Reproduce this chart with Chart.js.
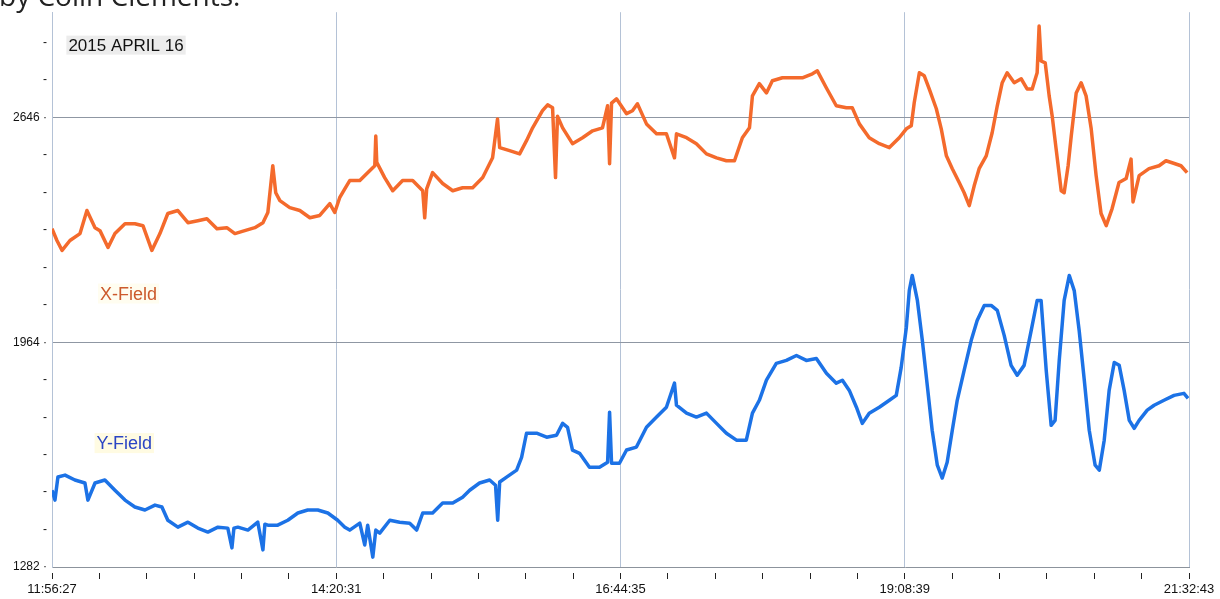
<!DOCTYPE html>
<html>
<head>
<meta charset="utf-8">
<script src="https://cdn.jsdelivr.net/npm/chart.js@4.4.1/dist/chart.umd.min.js"></script>
<style>
  body { margin: 0; background: #fff; overflow: hidden; }
  #wrap { position: relative; width: 1220px; height: 599px; }
  #byline { position: absolute; left: -1px; top: -19px; font-family: "Open Sans", sans-serif; font-size: 28px; line-height: 28px; color: #222; white-space: nowrap; }
  canvas { position: absolute; left: 0; top: 0; }
</style>
</head>
<body>
<div id="wrap">
  <canvas id="magChart" width="1220" height="599"></canvas>
  <div id="byline">by Colin Clements.</div>
</div>
<script>
// minutes after 11:56:27 and field readings (nT counts)
const xFieldMinutes = [0, 2.5, 5.1, 9.1, 14.2, 17.7, 21.8, 24.3, 28.4, 31.9, 37.0, 42.0, 46.1, 50.6, 54.7, 58.7, 63.8, 68.9, 73.9, 78.5,
    83.6, 88.6, 92.7, 97.7, 102.8, 106.9, 109.4, 111.9, 113.4, 115.5, 120.5, 125.6, 130.7, 135.7, 140.8, 143.3, 145.8, 148.4, 150.9, 156.0,
    161.0, 163.6, 164.1, 164.6, 168.6, 172.7, 177.7, 182.8, 187.9, 188.9, 189.9, 192.9, 198.0, 203.1, 208.1, 213.2, 218.3, 223.3, 225.8, 226.9,
    231.9, 237.0, 240.5, 243.6, 248.6, 251.2, 253.7, 255.2, 256.2, 258.8, 263.8, 268.9, 274.0, 279.0, 281.6, 282.6, 283.6, 286.1, 291.2, 294.2,
    296.7, 301.3, 306.4, 311.4, 315.5, 316.5, 321.6, 326.6, 331.7, 336.8, 341.8, 345.9, 349.9, 353.5, 355.0, 358.5, 362.1, 365.1, 370.2, 375.2,
    380.3, 385.4, 387.9, 392.5, 397.5, 402.6, 405.6, 409.2, 414.2, 419.3, 424.4, 429.4, 433.0, 435.5, 437.0, 439.6, 442.1, 444.6, 448.2, 450.7,
    453.3, 456.3, 459.8, 462.3, 464.9, 467.4, 469.9, 473.5, 476.5, 479.1, 481.6, 484.1, 487.7, 491.2, 494.2, 496.8, 499.3, 500.3, 501.3, 503.4,
    505.4, 506.9, 508.9, 511.5, 513.0, 515.0, 516.6, 519.1, 521.6, 524.1, 526.7, 529.2, 531.7, 534.3, 537.3, 540.8, 544.4, 546.9, 547.9, 551.0,
    556.0, 561.1, 564.6, 567.7, 572.2, 575.3];
const xFieldValues = [2309, 2273, 2243, 2273, 2294, 2364, 2312, 2303, 2252, 2294, 2324, 2324, 2318, 2243, 2294, 2355, 2364, 2327, 2333, 2339,
    2309, 2312, 2294, 2303, 2312, 2327, 2358, 2500, 2418, 2394, 2373, 2364, 2342, 2349, 2385, 2358, 2403, 2430, 2455, 2455,
    2485, 2500, 2590, 2510, 2464, 2424, 2455, 2455, 2424, 2342, 2430, 2479, 2446, 2424, 2433, 2433, 2464, 2524, 2642, 2555,
    2546, 2536, 2576, 2615, 2667, 2685, 2676, 2464, 2650, 2615, 2567, 2585, 2606, 2615, 2682, 2506, 2690, 2703, 2658, 2667,
    2688, 2627, 2597, 2597, 2524, 2597, 2585, 2567, 2536, 2524, 2515, 2515, 2585, 2615, 2712, 2749, 2721, 2758, 2767, 2767,
    2767, 2779, 2788, 2736, 2682, 2676, 2676, 2627, 2585, 2567, 2555, 2585, 2612, 2621, 2691, 2782, 2773, 2733, 2673, 2612,
    2530, 2491, 2449, 2418, 2379, 2439, 2491, 2530, 2600, 2682, 2752, 2782, 2752, 2764, 2733, 2733, 2782, 2924, 2818, 2812,
    2712, 2652, 2552, 2424, 2418, 2500, 2591, 2721, 2752, 2712, 2612, 2470, 2355, 2318, 2370, 2449, 2461, 2520, 2390, 2470,
    2491, 2500, 2515, 2509, 2500, 2479];

const yFieldMinutes = [0, 1.5, 3.0, 6.6, 11.6, 16.7, 18.2, 21.8, 26.8, 31.9, 37.0, 42.0, 47.1, 52.2, 55.7, 58.7, 63.8, 68.9, 73.9, 79.0,
    84.1, 89.1, 91.2, 92.2, 94.2, 99.3, 104.3, 106.9, 107.9, 109.4, 114.4, 119.5, 124.6, 129.6, 134.7, 139.8, 144.8, 148.4, 150.9, 156.0,
    158.5, 160.0, 162.6, 164.1, 166.1, 171.2, 176.2, 181.3, 184.8, 187.9, 192.9, 198.0, 203.1, 208.1, 211.7, 216.7, 221.8, 224.8, 225.9, 226.9,
    230.4, 235.5, 238.0, 240.5, 245.6, 250.7, 255.7, 258.8, 261.3, 263.8, 267.4, 272.4, 277.5, 281.6, 282.6, 283.6, 287.6, 291.2, 296.2, 301.3,
    306.4, 311.4, 315.5, 316.5, 321.6, 326.6, 331.7, 336.8, 341.8, 346.9, 351.9, 355.0, 358.5, 362.1, 367.1, 372.2, 377.3, 382.3, 387.4, 392.5,
    397.5, 400.6, 404.1, 407.7, 410.7, 414.2, 419.3, 424.4, 427.9, 430.4, 433.0, 434.5, 436.0, 438.6, 441.1, 443.6, 446.1, 448.7, 451.2, 453.7,
    456.3, 458.8, 462.3, 465.9, 468.9, 472.5, 476.0, 479.1, 482.6, 486.1, 489.2, 492.7, 496.3, 499.3, 501.3, 503.9, 506.4, 508.4, 510.5, 513.0,
    515.6, 518.1, 520.6, 523.2, 525.7, 528.7, 530.8, 533.3, 535.8, 538.4, 540.9, 543.4, 546.0, 548.5, 551.0, 555.1, 558.6, 563.6, 568.7, 573.7,
    575.8];
const yFieldValues = [1515, 1485, 1555, 1561, 1546, 1537, 1485, 1537, 1546, 1515, 1485, 1464, 1455, 1470, 1464, 1424, 1403, 1418, 1400, 1388,
    1403, 1400, 1340, 1400, 1403, 1394, 1418, 1334, 1412, 1409, 1409, 1424, 1446, 1455, 1455, 1446, 1424, 1403, 1394, 1415,
    1349, 1409, 1312, 1394, 1385, 1424, 1418, 1415, 1394, 1446, 1446, 1476, 1476, 1494, 1515, 1537, 1546, 1530, 1424, 1540,
    1555, 1576, 1615, 1688, 1688, 1676, 1682, 1718, 1706, 1637, 1627, 1585, 1585, 1600, 1752, 1597, 1597, 1637, 1646, 1706,
    1737, 1767, 1840, 1773, 1749, 1737, 1749, 1718, 1688, 1667, 1667, 1749, 1788, 1849, 1900, 1909, 1924, 1909, 1915, 1870,
    1840, 1849, 1818, 1767, 1718, 1749, 1767, 1788, 1803, 1888, 2009, 2121, 2167, 2091, 1970, 1834, 1697, 1591, 1552, 1600,
    1697, 1788, 1879, 1970, 2030, 2076, 2076, 2061, 1985, 1894, 1864, 1894, 2000, 2091, 2091, 1879, 1712, 1727, 1909, 2091,
    2167, 2121, 2000, 1849, 1697, 1591, 1576, 1667, 1818, 1903, 1894, 1818, 1727, 1703, 1727, 1758, 1773, 1788, 1803, 1809,
    1794];

const xTickLabels = ['11:56:27', '14:20:31', '16:44:35', '19:08:39', '21:32:43'];
const yTickLabels = [1282, 1964, 2646];
const spanMinutes = 576.2667;   // 11:56:27 -> 21:32:43
const yMax = 2966;

const xStep = spanMinutes / 24;
const yStep = (yTickLabels[1] - yTickLabels[0]) / 6;

function toPoints(mins, vals) {
    return mins.map((m, i) => ({ x: m, y: vals[i] }));
}

// text boxes on the plot
const notes = [
    { text: '2015 APRIL 16', x: 8.3, y: 2866, size: 17, color: '#111', bg: '#ececec' },
    { text: 'X-Field', x: 24.3, y: 2112, size: 18, color: '#cc5a2c', bg: '#fffdf0' },
    { text: 'Y-Field', x: 22.6, y: 1658, size: 18, color: '#2b45c4', bg: '#fffbe2' }
];

const notesPlugin = {
    id: 'notes',
    afterDatasetsDraw(chart) {
        const ctx = chart.ctx;
        const xs = chart.scales.x, ys = chart.scales.y;
        ctx.save();
        ctx.textBaseline = 'middle';
        notes.forEach(n => {
            ctx.font = n.size + 'px "Liberation Sans", Arial, sans-serif';
            const px = xs.getPixelForValue(n.x);
            const py = ys.getPixelForValue(n.y);
            const w = ctx.measureText(n.text).width;
            ctx.fillStyle = n.bg;
            ctx.fillRect(px - 2, py - n.size / 2 - 1, w + 4, n.size + 2);
            ctx.fillStyle = n.color;
            ctx.fillText(n.text, px, py + 1);
        });
        ctx.restore();
    }
};

const config = {
    type: 'line',
    data: {
        datasets: [{
            label: 'X-Field',
            data: toPoints(xFieldMinutes, xFieldValues),
            borderColor: '#f46a2c',
            borderWidth: 3.5,
            pointRadius: 0,
            tension: 0,
            borderJoinStyle: 'round'
        }, {
            label: 'Y-Field',
            data: toPoints(yFieldMinutes, yFieldValues),
            borderColor: '#1c72e6',
            borderWidth: 3.5,
            pointRadius: 0,
            tension: 0,
            borderJoinStyle: 'round'
        }]
    },
    options: {
        responsive: false,
        animation: false,
        layout: { padding: { top: 11, right: 31, left: 0, bottom: 0 } },
        plugins: {
            legend: { display: false },
            tooltip: { enabled: false }
        },
        scales: {
            x: {
                type: 'linear',
                min: 0,
                max: spanMinutes,
                afterBuildTicks: (scale) => {
                    const t = [];
                    for (let i = 0; i <= 24; i++) t.push({ value: i * xStep });
                    scale.ticks = t;
                },
                afterFit: (scale) => { scale.height = 32; },
                ticks: {
                    autoSkip: false,
                    maxRotation: 0,
                    padding: 3,
                    color: '#111',
                    font: { family: '"Liberation Sans", Arial, sans-serif', size: 13 },
                    callback: (v, i) => (i % 6 === 0 ? xTickLabels[i / 6] : '')
                },
                grid: {
                    color: (c) => (c.index % 6 === 0 && c.index > 0 ? '#b4c2d6' : 'rgba(0,0,0,0)'),
                    tickColor: '#222',
                    tickLength: 12,
                    tickBorderDash: [0, 5, 7, 40],
                    lineWidth: 1
                },
                border: { color: '#8c939c', width: 1 }
            },
            y: {
                min: yTickLabels[0],
                max: yMax,
                afterBuildTicks: (scale) => {
                    const t = [];
                    for (let i = 0; i * yStep + yTickLabels[0] <= yMax; i++) t.push({ value: yTickLabels[0] + i * yStep });
                    scale.ticks = t;
                },
                afterFit: (scale) => { scale.width = 52; },
                ticks: {
                    autoSkip: false,
                    padding: 5,
                    color: '#111',
                    font: { family: '"Liberation Sans", Arial, sans-serif', size: 12 },
                    callback: (v, i) => (i % 6 === 0 ? yTickLabels[i / 6] + ' \u00b7' : '-')
                },
                grid: {
                    drawTicks: false,
                    color: (c) => (c.index % 6 === 0 && c.index > 0 ? '#8f97a3' : 'rgba(0,0,0,0)'),
                    lineWidth: 1
                },
                border: { color: '#b4c2d6', width: 1 }
            }
        }
    },
    plugins: [notesPlugin]
};

const magChart = new Chart(document.getElementById('magChart'), config);
</script>
</body>
</html>
